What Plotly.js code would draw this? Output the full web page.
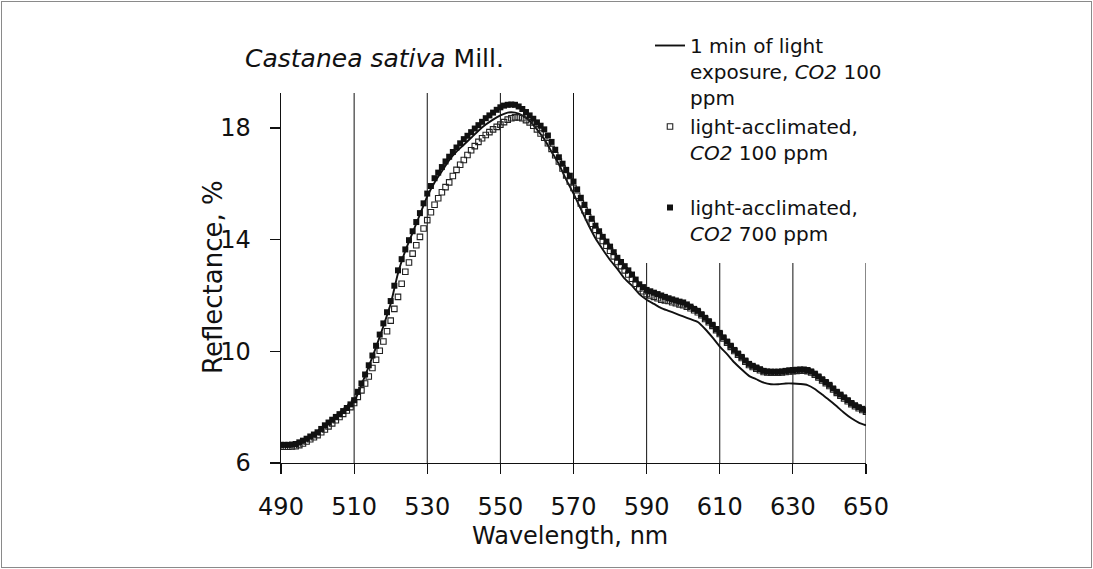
<!DOCTYPE html>
<html>
<head>
<meta charset="utf-8">
<script src="https://cdn.plot.ly/plotly-3.0.1.min.js"></script>
<style>
  html, body { margin: 0; padding: 0; background: #fff; }
  #chart { width: 1093px; height: 569px; }
  #frame { position: absolute; left: 1px; top: 1px; width: 1089px; height: 565px; border: 1px solid #8a8a8a; pointer-events: none; }
</style>
</head>
<body>
<div id="chart"></div>
<div id="frame"></div>
<script>
// Wavelength grid (nm) for the marker series: 1 nm steps from 490 to 650
const startNm = 490;
// light-acclimated, CO2 100 ppm (open squares), reflectance %
const accl100 = [
  6.58,6.58,6.58,6.59,6.60,6.64,6.70,6.77,6.85,6.92,
  7.00,7.10,7.20,7.31,7.42,7.53,7.65,7.76,7.88,8.00,
  8.15,8.37,8.60,8.85,9.10,9.40,9.70,10.02,10.35,10.72,
  11.10,11.52,11.95,12.42,12.85,13.18,13.50,13.80,14.10,14.40,
  14.70,14.98,15.25,15.48,15.70,15.88,16.05,16.28,16.50,16.68,
  16.85,17.03,17.20,17.35,17.50,17.63,17.75,17.85,17.95,18.04,
  18.12,18.21,18.30,18.35,18.38,18.38,18.35,18.28,18.20,18.08,
  17.95,17.80,17.65,17.45,17.25,17.02,16.80,16.55,16.30,16.08,
  15.85,15.57,15.30,15.05,14.80,14.57,14.35,14.15,13.95,13.78,
  13.60,13.40,13.20,13.05,12.90,12.75,12.60,12.42,12.25,12.15,
  12.05,12.00,11.95,11.90,11.85,11.82,11.80,11.76,11.72,11.68,
  11.65,11.60,11.54,11.47,11.40,11.29,11.16,11.04,10.91,10.76,
  10.62,10.46,10.31,10.16,10.01,9.88,9.76,9.63,9.51,9.44,
  9.38,9.32,9.26,9.24,9.23,9.23,9.23,9.24,9.26,9.28,
  9.29,9.30,9.31,9.31,9.29,9.24,9.16,9.06,8.96,8.86,
  8.76,8.63,8.51,8.41,8.31,8.21,8.11,8.03,7.96,7.90,
  7.84
];
// light-acclimated, CO2 700 ppm (filled squares), reflectance %
const accl700 = [
  6.65,6.65,6.65,6.66,6.68,6.74,6.80,6.87,6.95,7.02,
  7.10,7.22,7.35,7.45,7.55,7.65,7.75,7.86,7.97,8.10,
  8.25,8.55,8.85,9.17,9.50,9.85,10.20,10.60,11.00,11.40,
  11.80,12.35,12.90,13.30,13.65,13.98,14.30,14.63,14.95,15.30,
  15.65,15.92,16.20,16.40,16.60,16.80,16.97,17.14,17.30,17.45,
  17.60,17.72,17.85,17.98,18.10,18.22,18.35,18.45,18.55,18.65,
  18.74,18.80,18.83,18.84,18.83,18.77,18.68,18.57,18.45,18.33,
  18.20,18.08,17.95,17.73,17.50,17.22,16.95,16.72,16.50,16.29,
  16.08,15.80,15.50,15.25,15.00,14.75,14.50,14.30,14.10,13.93,
  13.75,13.55,13.35,13.20,13.05,12.90,12.75,12.57,12.40,12.30,
  12.20,12.15,12.10,12.05,12.00,11.95,11.90,11.86,11.82,11.78,
  11.75,11.68,11.60,11.52,11.45,11.33,11.20,11.08,10.95,10.80,
  10.66,10.50,10.35,10.20,10.05,9.92,9.80,9.67,9.55,9.48,
  9.42,9.36,9.30,9.28,9.27,9.27,9.27,9.28,9.30,9.32,
  9.33,9.34,9.35,9.35,9.33,9.28,9.20,9.10,9.00,8.90,
  8.80,8.67,8.55,8.45,8.35,8.25,8.15,8.07,8.00,7.94,
  7.88
];
// 1 min of light exposure, CO2 100 ppm (solid line), sampled every 2 nm
const lineStartNm = 490;
const lineStepNm = 2;
const minute1 = [
  6.60,6.60,6.63,6.75,6.90,7.05,7.30,7.50,7.70,7.93,
  8.20,8.80,9.45,10.15,10.90,11.70,12.80,13.60,14.25,14.90,
  15.55,16.05,16.45,16.85,17.15,17.40,17.65,17.90,18.12,18.30,
  18.45,18.55,18.55,18.45,18.25,17.95,17.60,17.15,16.70,16.15,
  15.65,15.10,14.55,14.05,13.65,13.27,12.95,12.60,12.35,12.05,
  11.85,11.70,11.55,11.45,11.35,11.25,11.15,11.05,10.80,10.50,
  10.17,9.90,9.60,9.35,9.12,9.00,8.88,8.82,8.82,8.85,
  8.85,8.83,8.79,8.65,8.45,8.25,8.03,7.80,7.60,7.45,
  7.35
];
const xTicks = [490, 510, 530, 550, 570, 590, 610, 630, 650];
const yTicks = [6, 10, 14, 18];
const legendNames = [
  '1 min of light<br>exposure, <i>CO2</i> 100<br>ppm',
  'light-acclimated,<br><i>CO2</i> 100 ppm<br> ',
  'light-acclimated,<br><i>CO2</i> 700 ppm'
];
const titleText = '<i>Castanea sativa</i> Mill.';
const xTitle = 'Wavelength, nm';
const yTitle = 'Reflectance, %';

const wl = accl100.map((_, i) => startNm + i);
const wlLine = minute1.map((_, i) => lineStartNm + i * lineStepNm);

// pixel helpers for layout placement (plot area 281..866 x 93..463)
const L = 281, R = 866, T = 93, B = 463;
const PXPERUNIT = 27.92;
const px = v => (v - L) / (R - L);
const py = v => (B - v) / (B - T);
const yMax = 6 + (B - T) / PXPERUNIT;
const legendBoxBottom = 6 + (B - 263) / PXPERUNIT; // grid hidden above this for x > 580

const FONT = 'DejaVu Sans';

const traces = [
  {
    x: wlLine, y: minute1, type: 'scatter', mode: 'lines',
    name: legendNames[0],
    line: {color: '#111', width: 1.9, shape: 'spline', smoothing: 0.6}
  },
  {
    x: wl, y: accl100, type: 'scatter', mode: 'markers',
    name: legendNames[1],
    marker: {symbol: 'square-open', size: 5.5, color: '#222', line: {width: 1.1, color: '#222'}}
  },
  {
    x: wl, y: accl700, type: 'scatter', mode: 'markers',
    name: legendNames[2],
    marker: {symbol: 'square', size: 6, color: '#111', line: {width: 0}}
  }
];

// vertical grid lines (drawn as shapes; the legend area hides the upper part right of 580 nm)
const gridShapes = xTicks.filter(v => v > 490).map(v => ({
  type: 'line', xref: 'x', yref: 'y', x0: v, x1: v, y0: 6,
  y1: v > 580 ? legendBoxBottom : yMax,
  line: {color: '#111', width: 1}, layer: 'below'
}));

const layout = {
  width: 1093, height: 569,
  margin: {l: L, r: 1093 - R, t: T, b: 569 - B, pad: 0},
  paper_bgcolor: '#fff', plot_bgcolor: '#fff',
  font: {family: FONT, color: '#111'},
  showlegend: true,
  legend: {
    x: px(650), y: py(26), xanchor: 'left', yanchor: 'top',
    xref: 'paper', yref: 'paper',
    bgcolor: 'rgba(0,0,0,0)', borderwidth: 0,
    font: {family: FONT, size: 20, color: '#111'},
    valign: 'top', tracegroupgap: 0, itemsizing: 'trace'
  },
  xaxis: {
    range: [490, 650], tickvals: xTicks, ticktext: xTicks.map(String),
    showgrid: false,
    zeroline: false, showline: true, linecolor: '#111', linewidth: 1.3,
    ticks: 'outside', ticklen: 10, tickcolor: '#111', tickwidth: 1.2,
    tickfont: {family: FONT, size: 24, color: '#111'},
    ticklabelstandoff: 12
  },
  yaxis: {
    range: [6, yMax], tickvals: yTicks, ticktext: yTicks.map(String),
    showgrid: false, zeroline: false, showline: true, linecolor: '#111', linewidth: 1.3,
    ticks: 'outside', ticklen: 10, tickcolor: '#111', tickwidth: 1.2,
    tickfont: {family: FONT, size: 24, color: '#111'},
    ticklabelstandoff: 14
  },
  shapes: gridShapes,
  annotations: [
    {text: titleText, xref: 'paper', yref: 'paper', x: px(243), y: py(58),
     xanchor: 'left', yanchor: 'middle', showarrow: false,
     font: {family: FONT, size: 25, color: '#111'}},
    {text: xTitle, xref: 'paper', yref: 'paper', x: px(570), y: py(536),
     xanchor: 'center', yanchor: 'middle', showarrow: false,
     font: {family: FONT, size: 24, color: '#111'}},
    {text: yTitle, xref: 'paper', yref: 'paper', x: px(213), y: py(277),
     xanchor: 'center', yanchor: 'middle', showarrow: false, textangle: -90,
     font: {family: FONT, size: 26, color: '#111'}}
  ]
};

Plotly.newPlot('chart', traces, layout, {staticPlot: true, displayModeBar: false});
</script>
</body>
</html>
